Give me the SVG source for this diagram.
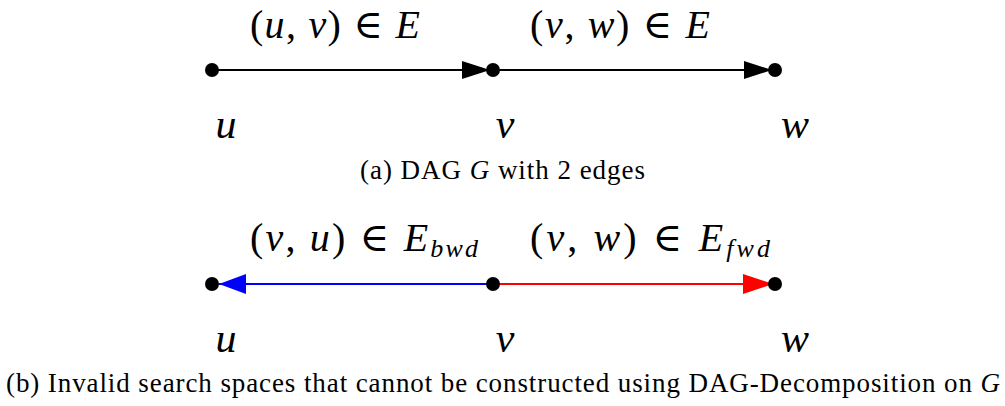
<svg xmlns="http://www.w3.org/2000/svg" width="1005" height="406" viewBox="0 0 1005 406">
<style>
  .m { font-family: "Liberation Serif", "DejaVu Serif", serif; font-size: 40px; fill: #000; }
  .i { font-style: italic; }
  .sub { font-style: italic; font-size: 26px; }
  .nl { font-family: "Liberation Serif", "DejaVu Serif", serif; font-size: 42px; font-style: italic; fill: #000; text-anchor: middle; }
  .cap { font-family: "Liberation Serif", "DejaVu Serif", serif; font-size: 27px; fill: #000; }
  .dot { fill: #000; }
  .e { stroke-width: 2; fill: none; }
</style>
<defs>
  <marker id="ahk" markerUnits="userSpaceOnUse" markerWidth="28" markerHeight="18" viewBox="0 0 28 18" refX="28" refY="9" orient="auto"><path d="M0,0 L28,9 L0,18 z" fill="#000"/></marker>
  <marker id="ahb" markerUnits="userSpaceOnUse" markerWidth="27" markerHeight="20" viewBox="0 0 27 20" refX="27" refY="10" orient="auto"><path d="M0,0 L27,10 L0,20 z" fill="#0000ff"/></marker>
  <marker id="ahr" markerUnits="userSpaceOnUse" markerWidth="30" markerHeight="20" viewBox="0 0 30 20" refX="30" refY="10" orient="auto"><path d="M0,0 L30,10 L0,20 z" fill="#ff0000"/></marker>
</defs>
<g id="connectors">
  <line class="e" x1="212" y1="70" x2="490" y2="70" stroke="#000" marker-end="url(#ahk)"/>
  <line class="e" x1="493" y1="70" x2="772" y2="70" stroke="#000" marker-end="url(#ahk)"/>
  <line class="e" x1="493" y1="284" x2="219" y2="284" stroke="#0000ff" marker-end="url(#ahb)"/>
  <line class="e" x1="493" y1="284" x2="773" y2="284" stroke="#ff0000" marker-end="url(#ahr)"/>
</g>
<g id="edge-labels">
  <text class="m" x="250" y="38" textLength="170" lengthAdjust="spacing">(<tspan class="i">u</tspan>, <tspan class="i">v</tspan>) ∈ <tspan class="i">E</tspan></text>
  <text class="m" x="530" y="38" textLength="180" lengthAdjust="spacing">(<tspan class="i">v</tspan>, <tspan class="i">w</tspan>) ∈ <tspan class="i">E</tspan></text>
  <text class="m" x="250" y="251" textLength="228" lengthAdjust="spacing">(<tspan class="i">v</tspan>, <tspan class="i">u</tspan>) ∈ <tspan class="i">E</tspan><tspan class="sub" dy="6">bwd</tspan></text>
  <text class="m" x="530" y="251" textLength="240" lengthAdjust="spacing">(<tspan class="i">v</tspan>, <tspan class="i">w</tspan>) ∈ <tspan class="i">E</tspan><tspan class="sub" dy="6">fwd</tspan></text>
</g>
<g id="node-u-a"><circle class="dot" cx="212" cy="70" r="7"/><text class="nl" x="226" y="138">u</text></g>
<g id="node-v-a"><circle class="dot" cx="493" cy="70" r="7"/><text class="nl" x="505" y="138">v</text></g>
<g id="node-w-a"><circle class="dot" cx="775" cy="70" r="7"/><text class="nl" x="795" y="138">w</text></g>
<g id="node-u-b"><circle class="dot" cx="212" cy="284" r="7"/><text class="nl" x="226" y="352">u</text></g>
<g id="node-v-b"><circle class="dot" cx="493" cy="284" r="7"/><text class="nl" x="505" y="352">v</text></g>
<g id="node-w-b"><circle class="dot" cx="775" cy="284" r="7"/><text class="nl" x="795" y="352">w</text></g>
<text class="cap" x="360" y="179" textLength="285" lengthAdjust="spacing">(a) DAG <tspan font-style="italic">G</tspan> with 2 edges</text>
<text class="cap" x="6" y="392" textLength="994" lengthAdjust="spacing">(b) Invalid search spaces that cannot be constructed using DAG-Decomposition on <tspan font-style="italic">G</tspan></text>
</svg>
